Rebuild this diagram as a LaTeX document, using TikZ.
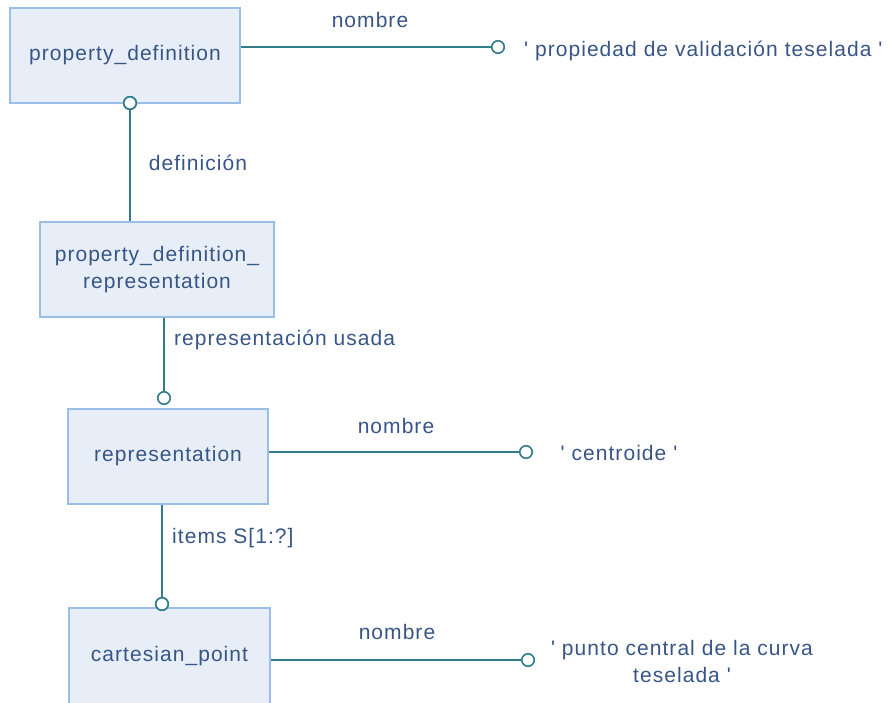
\documentclass[tikz,border=0pt]{standalone}
\usepackage{fontspec}
\setmainfont{Liberation Sans}[LetterSpace=5]
\definecolor{boxfill}{RGB}{232,238,248}
\definecolor{boxline}{RGB}{155,190,232}
\definecolor{conncol}{RGB}{50,125,140}
\definecolor{txtcol}{RGB}{55,85,135}
\tikzset{
  ent/.style={draw=boxline, line width=1.6pt, fill=boxfill, text=txtcol, align=center, inner sep=0pt, minimum height=95pt},
  conn/.style={draw=conncol, line width=1.8pt},
  circ/.style={circle, draw=conncol, line width=1.6pt, fill=white, minimum size=12.5pt, inner sep=0pt},
  lbl/.style={text=txtcol, inner sep=0pt},
}
\begin{document}
\begin{tikzpicture}[x=1pt,y=-1pt,font=\fontsize{21}{27}\selectfont]
\useasboundingbox (0,0) rectangle (892,702);
\clip (0,0) rectangle (892,702);
% entities
\node[ent, minimum width=230pt] (b1) at (125,55.5) {property\_definition};
\node[ent, minimum width=234pt] (b2) at (157,269.5) {property\_definition\_\\representation};
\node[ent, minimum width=200pt] (b3) at (168,456.5) {representation};
\node[ent, minimum width=201pt, minimum height=96pt] (b4) at (169.5,656) {cartesian\_point};
% circles
\node[circ] (c1) at (498,47) {};
\node[circ] (c2) at (130,103) {};
\node[circ] (c3) at (164,398) {};
\node[circ] (c5) at (526,452) {};
\node[circ] (c4) at (162,604) {};
\node[circ] (c6) at (528,660) {};
% connectors
\draw[conn] (b1.east |- c1) -- (c1.west);
\draw[conn] (c2.south) -- (b2.north -| c2);
\draw[conn] (b2.south -| c3) -- (c3.north);
\draw[conn] (b3.east |- c5) -- (c5.west);
\draw[conn] (b3.south -| c4) -- (c4.north);
\draw[conn] (b4.east |- c6) -- (c6.west);
% redraw circles on top
\node[circ] at (c2) {};
\node[circ] at (c4) {};
% labels
\node[lbl] (l1) at (370,20) {nombre};
\node[lbl] (l2) at (198,163) {definición};
\node[lbl, anchor=west] (l3) at (174,340) {representación usada};
\node[lbl] (l4) at (396,426) {nombre};
\node[lbl, anchor=west] (l5) at (172,538) {items S[1:?]};
\node[lbl] (l6) at (397,632) {nombre};
% values
\node[lbl, anchor=west] (v1) at (524,51) {\textquotesingle\ propiedad de validación teselada \textquotesingle};
\node[lbl] (v2) at (619,453) {\textquotesingle\ centroide \textquotesingle};
\node[lbl, align=center] (v3) at (682,661) {\textquotesingle\ punto central de la curva\\teselada \textquotesingle};
\end{tikzpicture}
\end{document}
